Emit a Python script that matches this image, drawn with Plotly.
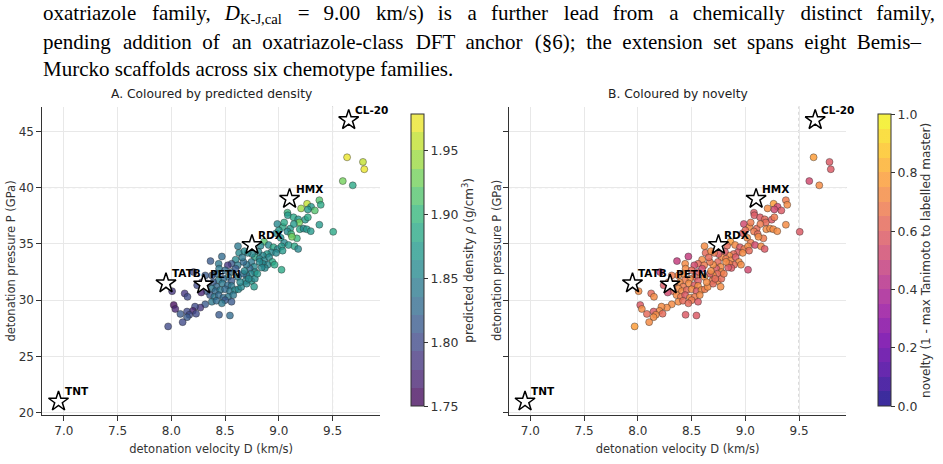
import plotly.graph_objects as go
from plotly.colors import sample_colorscale

# ---------------- data ----------------
D_ext = [9.635, 9.783, 9.795, 9.595, 9.688, 9.506,
         9.377, 9.39, 9.263, 9.207, 9.30, 9.335, 9.27, 9.08, 9.084, 9.137, 9.18, 9.245, 9.27, 9.19,
         9.377, 8.986, 9.038, 9.106, 9.195, 9.23, 9.26, 9.297, 9.08, 9.115, 8.976, 9.168, 9.122, 9.017,
         9.05, 9.09, 9.146, 9.18, 8.862,
         8.83, 8.905, 8.95, 8.99, 9.025, 9.035, 8.93, 8.975, 8.89, 8.85, 8.81, 8.777, 8.75, 8.71, 8.62,
         8.63, 8.82, 8.865, 8.91, 8.94, 8.895, 8.85, 8.96, 8.87, 8.745, 8.77, 8.73, 8.70, 8.67, 8.598,
         8.56, 8.617, 9.025, 8.777, 8.74, 8.70, 8.67, 8.62, 8.69, 8.745, 8.777, 8.77,
         8.47, 8.364, 8.44, 8.525, 8.444, 8.50, 8.56, 8.598, 8.423, 8.377, 8.315, 8.207, 8.53, 8.484,
         8.437, 8.56, 8.39, 8.336, 8.285, 8.24, 8.474, 8.525, 8.56, 8.42, 8.377, 8.33, 8.278, 8.41,
         8.455, 8.50, 8.546, 8.592, 8.623, 8.65, 8.70, 8.36, 8.40, 8.44, 8.484, 8.53, 8.576, 8.377,
         8.42, 8.50, 8.56, 8.315, 8.27, 8.22, 8.47,
         8.007, 8.124, 8.15, 8.022, 8.037, 8.20, 8.23, 8.084, 8.146, 8.167, 8.146, 8.105, 7.97, 8.444,
         8.545,
         8.68, 8.72, 8.64, 8.80, 8.84, 8.82, 8.66, 8.68, 9.0, 9.05, 9.14]
P_ext = [42.69, 42.28, 41.63, 40.58, 40.2, 36.07,
         38.88, 38.47, 38.56, 38.15, 38.3, 37.97, 38.06, 37.77, 37.54, 37.36, 37.18, 37.15, 37.36, 36.9,
         36.7, 36.77, 36.5, 36.36, 36.3, 36.36, 36.3, 36.13, 36.1, 35.87, 35.95, 35.49, 35.63, 35.54,
         35.1, 34.9, 34.78, 34.55, 35.19,
         34.84, 34.9, 34.7, 34.55, 34.78, 34.4, 34.25, 34.2, 34.1, 33.96, 34.3, 33.82, 34.1, 34.2, 34.8,
         34.2, 33.67, 33.53, 33.82, 33.4, 33.15, 33.23, 33.15, 32.86, 33.4, 32.96, 32.8, 33.15, 33.4, 33.6,
         33.23, 33.1, 32.7, 32.5, 32.35, 32.2, 32.35, 32.06, 31.7, 31.7, 31.9, 31.2,
         33.88, 33.47, 33.23, 33.1, 32.8, 32.65, 32.5, 32.8, 32.35, 32.2, 32.2, 32.5, 32.06, 31.9,
         31.77, 31.7, 31.6, 31.48, 31.6, 31.33, 31.48, 31.33, 31.27, 31.2, 31.03, 30.8, 30.68, 30.8,
         30.9, 30.97, 30.8, 30.9, 30.97, 31.18, 31.47, 30.45, 30.3, 30.45, 30.22, 30.3, 30.45, 29.86,
         29.95, 30.0, 29.86, 29.63, 29.34, 29.43, 29.72,
         30.8, 30.6, 30.3, 29.57, 29.22, 29.05, 28.8, 28.78, 28.99, 28.7, 28.49, 28.05, 27.67, 28.7,
         28.64,
         32.6, 31.9, 31.6, 32.35, 32.9, 33.4, 33.8, 34.35, 36.2, 36.9, 36.76]
rho_ext = [1.975, 1.95, 1.97, 1.93, 1.88, 1.89,
           1.91, 1.88, 1.96, 1.94, 1.87, 1.91, 1.87, 1.90, 1.87, 1.88, 1.87, 1.87, 1.88, 1.93,
           1.87, 1.86, 1.89, 1.87, 1.88, 1.86, 1.87, 1.87, 1.86, 1.90, 1.86, 1.90, 1.93, 1.87,
           1.86, 1.87, 1.89, 1.86, 1.92,
           1.86, 1.86, 1.89, 1.86, 1.87, 1.87, 1.86, 1.86, 1.87, 1.85, 1.86, 1.88, 1.85, 1.86, 1.84,
           1.86, 1.86, 1.86, 1.85, 1.88, 1.86, 1.85, 1.89, 1.86, 1.84, 1.85, 1.83, 1.84, 1.83, 1.85,
           1.82, 1.84, 1.88, 1.85, 1.85, 1.84, 1.83, 1.84, 1.85, 1.87, 1.86, 1.87,
           1.83, 1.81, 1.84, 1.79, 1.84, 1.83, 1.83, 1.82, 1.83, 1.82, 1.81, 1.80, 1.84, 1.83,
           1.84, 1.82, 1.82, 1.81, 1.79, 1.80, 1.84, 1.83, 1.84, 1.83, 1.84, 1.82, 1.77, 1.83,
           1.84, 1.83, 1.84, 1.85, 1.85, 1.86, 1.85, 1.82, 1.84, 1.83, 1.83, 1.84, 1.84, 1.84,
           1.83, 1.82, 1.81, 1.82, 1.78, 1.80, 1.84,
           1.79, 1.78, 1.80, 1.76, 1.77, 1.77, 1.80, 1.81, 1.80, 1.80, 1.81, 1.80, 1.80, 1.81,
           1.83,
           1.85, 1.85, 1.85, 1.87, 1.86, 1.86, 1.84, 1.85, 1.87, 1.88, 1.87]
nov_ext = [0.75, 0.55, 0.55, 0.50, 0.70, 0.55,
           0.65, 0.70, 0.75, 0.72, 0.50, 0.55, 0.50, 0.55, 0.55, 0.58, 0.60, 0.55, 0.65, 0.60,
           0.70, 0.50, 0.72, 0.60, 0.70, 0.72, 0.72, 0.70, 0.68, 0.60, 0.55, 0.65, 0.72, 0.70,
           0.68, 0.50, 0.70, 0.58, 0.75,
           0.62, 0.70, 0.58, 0.66, 0.72, 0.60, 0.55, 0.70, 0.64, 0.72, 0.58, 0.70, 0.55, 0.68, 0.72,
           0.60, 0.66, 0.70, 0.55, 0.72, 0.62, 0.68, 0.70, 0.58, 0.64, 0.72, 0.55, 0.70, 0.66, 0.74,
           0.60, 0.68, 0.50, 0.70, 0.62, 0.72, 0.58, 0.70, 0.66, 0.74, 0.60, 0.72,
           0.48, 0.48, 0.70, 0.50, 0.72, 0.64, 0.58, 0.50, 0.70, 0.74, 0.66, 0.48, 0.60, 0.72,
           0.68, 0.55, 0.72, 0.62, 0.66, 0.55, 0.70, 0.58, 0.74, 0.66, 0.72, 0.60, 0.50, 0.70,
           0.64, 0.72, 0.58, 0.70, 0.66, 0.72, 0.60, 0.74, 0.68, 0.55, 0.70, 0.66, 0.72, 0.70,
           0.62, 0.66, 0.58, 0.70, 0.70, 0.70, 0.64,
           0.72, 0.60, 0.70, 0.58, 0.72, 0.70, 0.60, 0.60, 0.58, 0.72, 0.70, 0.72, 0.75, 0.55,
           0.55,
           0.70, 0.64, 0.72, 0.66, 0.58, 0.70, 0.62, 0.74, 0.60, 0.68, 0.66]

ref_names = ["TNT", "TATB", "PETN", "RDX", "HMX", "CL-20"]
ref_D = [6.95, 7.95, 8.30, 8.75, 9.10, 9.65]
ref_P = [21.0, 31.5, 31.4, 34.9, 39.0, 46.0]

rho_ticks = [1.75, 1.80, 1.85, 1.90, 1.95]
nov_ticks = [0.0, 0.2, 0.4, 0.6, 0.8, 1.0]
x_ticks = [7.0, 7.5, 8.0, 8.5, 9.0, 9.5]
y_ticks = [20, 25, 30, 35, 40, 45]

line1_words = ["oxatriazole", "family,", "<i>D</i><sub>K-J,cal</sub>", "=", "9.00", "km/s)", "is", "a",
               "further", "lead", "from", "a", "chemically", "distinct", "family,"]
line2_words = ["pending", "addition", "of", "an", "oxatriazole-class", "DFT", "anchor", "(§6);", "the",
               "extension", "set", "spans", "eight", "Bemis–"]
line3_text = "Murcko scaffolds across six chemotype families."

# ---------------- styling helpers ----------------
W, H = 943, 464
FONT = "DejaVu Sans"


def banded(scale, n, alpha):
    cols = sample_colorscale(scale, [(i + 0.5) / n for i in range(n)], colortype="rgb")
    out = []
    for i, c in enumerate(cols):
        rgb = c[c.index("(") + 1:c.index(")")]
        rgba = f"rgba({rgb},{alpha})"
        out.append([i / n, rgba])
        out.append([(i + 1) / n, rgba])
    return out


def justify(words, base, extra, n_extra):
    out = words[0]
    for i, w in enumerate(words[1:]):
        out += base + (extra if i % 2 == 0 and i // 2 < n_extra else "") + w
    return out


cs_rho = banded("Viridis", 16, 0.78)
cs_nov = banded("Plasma", 20, 0.85)

xA = [42.7 / W, 382.7 / W]
xB = [512.7 / W, 852.7 / W]
ydom = [(H - 419.3) / H, (H - 107.7) / H]

fig = go.Figure()

common_marker = dict(size=7, line=dict(color="rgba(40,40,40,0.7)", width=0.6))


def cbar(xpx, ticks, fmt, title):
    return dict(x=xpx / W, xanchor="left", y=(H - 263.2) / H, yanchor="middle",
                lenmode="pixels", len=312, thickness=13,
                outlinewidth=1, outlinecolor="#333",
                ticks="outside", ticklen=4, tickcolor="#333",
                tickvals=ticks, ticktext=[fmt.format(v) for v in ticks],
                tickfont=dict(size=12.5, color="#333", family=FONT),
                title=dict(text=title, side="right", font=dict(size=12, color="#333", family=FONT)))


fig.add_trace(go.Scatter(
    x=D_ext, y=P_ext, mode="markers", xaxis="x", yaxis="y", showlegend=False,
    marker=dict(color=rho_ext, colorscale=cs_rho, cmin=1.75, cmax=1.978, **common_marker,
                colorbar=cbar(404, rho_ticks, "{:.2f}",
                              "predicted density <i>ρ</i> (g/cm<sup>3</sup>)"))))

fig.add_trace(go.Scatter(
    x=D_ext, y=P_ext, mode="markers", xaxis="x2", yaxis="y2", showlegend=False,
    marker=dict(color=nov_ext, colorscale=cs_nov, cmin=0, cmax=1, **common_marker,
                colorbar=cbar(874, nov_ticks, "{:.1f}",
                              "novelty (1 - max Tanimoto to labelled master)"))))

for xa, ya in (("x", "y"), ("x2", "y2")):
    fig.add_shape(type="line", xref=xa, yref=f"{ya} domain", x0=9.5, x1=9.5, y0=0, y1=1,
                  line=dict(color="#aaa", width=1, dash="dot"), layer="below")
    fig.add_shape(type="line", xref=f"{xa} domain", yref=ya, x0=0, x1=1, y0=40, y1=40,
                  line=dict(color="#aaa", width=1, dash="dot"), layer="below")
    fig.add_trace(go.Scatter(
        x=ref_D, y=ref_P, mode="markers", xaxis=xa, yaxis=ya, showlegend=False,
        marker=dict(symbol="star", size=15, color="white", line=dict(color="black", width=1.5))))
    for n, d, p in zip(ref_names, ref_D, ref_P):
        fig.add_annotation(x=d, y=p, xref=xa, yref=ya, text=f"<b>{n}</b>", showarrow=False,
                           xanchor="left", yanchor="bottom", xshift=4, yshift=2,
                           font=dict(size=10.5, color="black", family=FONT))

axis_common = dict(showline=True, linecolor="#333", linewidth=1, ticks="outside", ticklen=5,
                   tickcolor="#333", showgrid=True, gridcolor="#e8e8e8", zeroline=False,
                   tickfont=dict(size=12, color="#333", family=FONT))

fig.update_layout(
    width=W, height=H, margin=dict(l=0, r=0, t=0, b=0),
    paper_bgcolor="white", plot_bgcolor="white",
    font=dict(family=FONT, color="#333"),
    xaxis=dict(domain=xA, range=[6.8, 9.94], tickvals=x_ticks, ticktext=[f"{v:.1f}" for v in x_ticks],
               title=dict(text="detonation velocity D (km/s)", font=dict(size=11.5), standoff=7),
               anchor="y", **axis_common),
    yaxis=dict(domain=ydom, range=[19.82, 47.2], tickvals=y_ticks, anchor="x", **axis_common),
    xaxis2=dict(domain=xB, range=[6.8, 9.94], tickvals=x_ticks, ticktext=[f"{v:.1f}" for v in x_ticks],
                title=dict(text="detonation velocity D (km/s)", font=dict(size=11.5), standoff=7),
                anchor="y2", **axis_common),
    yaxis2=dict(domain=ydom, range=[19.82, 47.2], tickvals=y_ticks, showticklabels=False,
                anchor="x2", **axis_common),
)

# y-axis titles (placed as rotated annotations)
ymid = (ydom[0] + ydom[1]) / 2
for xpx in (11, 500):
    fig.add_annotation(x=xpx / W, y=ymid, xref="paper", yref="paper",
                       text="detonation pressure P (GPa)", textangle=-90, showarrow=False,
                       xanchor="center", yanchor="middle",
                       font=dict(size=11.5, color="#333", family=FONT))

# subplot titles
for dom, t in ((xA, "A. Coloured by predicted density"), (xB, "B. Coloured by novelty")):
    fig.add_annotation(x=(dom[0] + dom[1]) / 2, y=(H - 95) / H, xref="paper", yref="paper",
                       text=t, showarrow=False,
                       font=dict(size=12.3, color="#222", family=FONT), xanchor="center", yanchor="middle")

# body text above figure (lines 1-2 justified with extra word spacing)
line1 = justify(line1_words, " \u2005\u2006", "\u200a", 7)
line2 = justify(line2_words, " \u2005", "\u200a", 4)
body = [(line1, 14), (line2, 42), (line3_text, 70)]
for line, yc in body:
    fig.add_annotation(x=41 / W, y=(H - yc) / H, xref="paper", yref="paper", text=line,
                       showarrow=False, xanchor="left", yanchor="middle",
                       font=dict(size=21, color="black", family="Liberation Serif"))

fig.write_html("out.html")
